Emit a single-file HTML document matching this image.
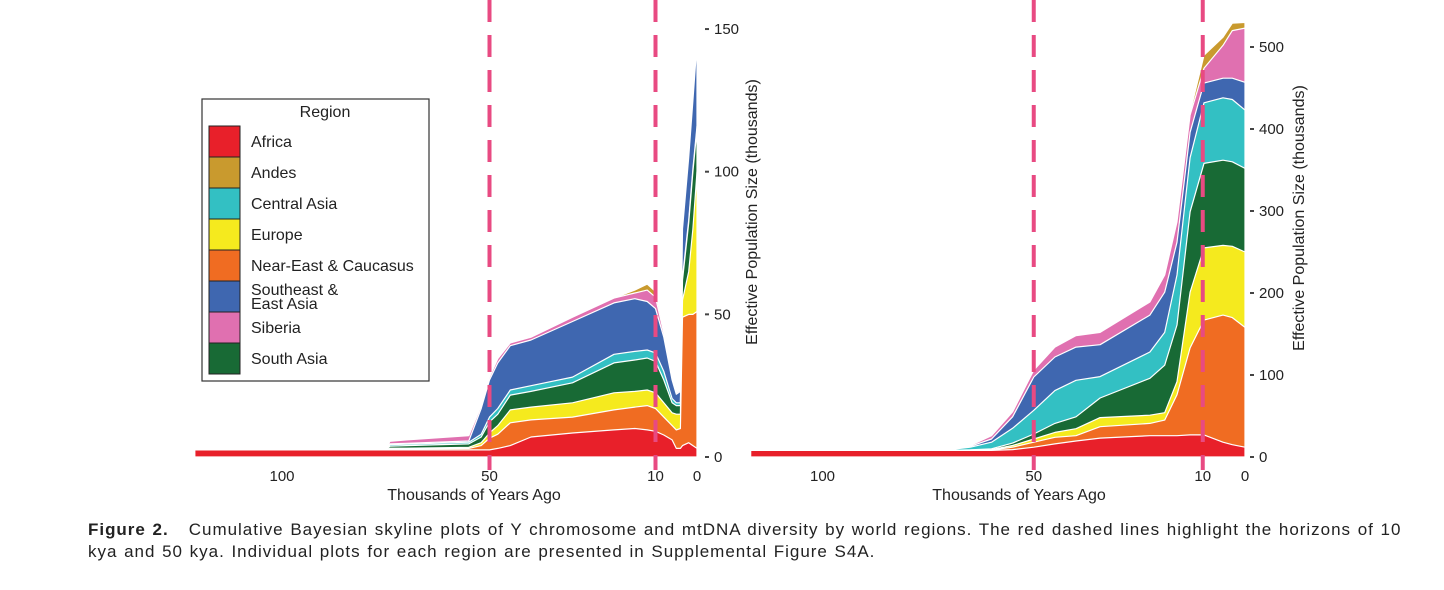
<!DOCTYPE html>
<html><head><meta charset="utf-8">
<style>
html,body{margin:0;padding:0;background:#fff;}
body{width:1444px;height:590px;overflow:hidden;font-family:"Liberation Sans",sans-serif;}
svg text{font-family:"Liberation Sans",sans-serif;fill:#222;}
#caption{position:absolute;left:88px;top:519px;font-size:17px;letter-spacing:0.98px;word-spacing:1px;color:#222;line-height:22px;white-space:nowrap;}
</style></head>
<body>
<svg id="chart" width="1444" height="515" style="position:absolute;left:0;top:0">
  <g id="left"></g>
  <g id="right"></g>
  <g id="legend"></g>
</svg>
<div id="caption"><b>Figure 2.</b>&nbsp;&nbsp; Cumulative Bayesian skyline plots of Y chromosome and mtDNA diversity by world regions. The red dashed lines highlight the horizons of 10<br>kya and 50 kya. Individual plots for each region are presented in Supplemental Figure S4A.</div>
<script>
const regions = ["Africa","Near-East & Caucasus","Europe","South Asia","Central Asia","Southeast & East Asia","Siberia","Andes"];
const colors = ["#e8202a","#f06c22","#f5ea1e","#186a35","#33c0c3","#3f67b0","#e070b0","#c99a2e"];
const legendOrder = ["Africa","Andes","Central Asia","Europe","Near-East & Caucasus","Southeast & East Asia","Siberia","South Asia"];

// Y chromosome (left): kya and cumulative stacked tops (thousands)
const yTimes = [121,75,74,70,55,52,50,48,45,40,30,20,15,12,10,8,6,5,4,3.5,2,1,0];
const yAfrica  = [2.5,2.5,2.5,2.5,2.5,2.5,2.5,3,4,7,8.4,9.5,10,9.5,9,7.7,6,3,3,4,5,4,3];
const yNearEast= [2.5,2.5,2.8,2.8,3,4,6.6,8,12,13,14,16.5,17.5,18,17,14,11,9.5,10,49,50,50,51];
const yEurope  = [2.5,2.5,3.1,3.1,3.4,5,8.4,11,16.5,17.5,19,22.5,23,23.5,22.5,19,15.5,15,15,55,65,80,100];
const ySouthAsia=[2.5,2.5,3.8,4,4.6,7,12.3,15,21.7,23,26,33,34,34.7,33.5,27,19,18,18,62,82,100,115];
const yCentral = [2.5,2.5,4.3,4.5,5.2,8,14,17,23.5,25,28,36,37,37.5,36.5,30,20.5,19,19,63,83,101,116];
const ySEAsia  = [2.5,2.5,4.6,4.8,5.6,17,27,33,39,41,47.5,54,55.5,54.5,52,42,27,22,23,80,105,125,145];
const ySiberia = [2.5,2.5,5.5,6,7.5,18,28,34.5,40,42,49,55.7,57.5,58.5,56,43.5,28,22.5,23.5,81,106,127,147];
const yAndes   = [2.5,2.5,5.5,6,7.5,18,28,34.5,40,42,49,55.7,58.5,60.6,58,44.5,28.5,22.7,23.5,81,106,127,147.5];

// mtDNA (right)
const mTimes = [117,70,65,60,55,50,45,40,34.3,22.5,19,16.1,13,9.7,5.2,3,0];
const mAfrica  = [8,8,8,8,9,12,16,19.5,23,26,26,26,27,27,18,15,12];
const mNearEast= [8,8,8.3,8.5,12,18,24,26,37,41,45,76,133,167,173,170,158];
const mEurope  = [8,8,8.5,9,14,22,30,34.5,48,51,54,92,201,255,258,257,250];
const mSouthAsia=[8,8,8.7,10,17,28,41,49,72,96,112,161,299,358,362,360,352];
const mCentral = [8,9,12,18,35,57,81,93.5,98,128,152,222,365,432,438,436,423];
const mSEAsia  = [8,9,13,22,49,97.6,122,134,137,173,201,262,396,456,462,462,457];
const mSiberia = [8,9.5,14,26,55,106,134,148,152,189,222,287,417,474,502,520,523];
const mAndes   = [8,9.5,14,26,55,107,135,149,153,190,223,289,420,490,512,529,530];

const yTicks = [0,50,100,150];
const mTicks = [0,100,200,300,400,500];
const xTicksL = [100,50,10,0];
const xTicksR = [100,50,10,0];

const NS="http://www.w3.org/2000/svg";
function mk(tag, attrs, parent){const e=document.createElementNS(NS,tag);for(const k in attrs)e.setAttribute(k,attrs[k]);parent.appendChild(e);return e;}

function drawPlot(g, times, series, xs, ys, yt, xt, yAxisX, titleX, titleY, xLabelX){
  for(let s=series.length-1;s>=0;s--){
    const top=series[s];
    let d="M"+xs(times[0])+","+ys(0);
    for(let i=0;i<times.length;i++) d+=" L"+xs(times[i]).toFixed(1)+","+ys(top[i]).toFixed(1);
    d+=" L"+xs(times[times.length-1])+","+ys(0)+" Z";
    const p=mk("path",{d:d,fill:colors[s],stroke:"#fff","stroke-width":1.2,"stroke-linejoin":"round"},g);
    
    
  }
  [50,10].forEach(v=>{
    const l=mk("line",{x1:xs(v),x2:xs(v),y1:0,y2:470,stroke:"#e84a82","stroke-width":4,"stroke-dasharray":"22 13"},g);
    
    
  });
  yt.forEach(v=>{
    const y=ys(v);
    mk("line",{x1:yAxisX,x2:yAxisX+4,y1:y,y2:y,stroke:"#444","stroke-width":2},g);
    const t=mk("text",{x:yAxisX+9,y:y+5,"font-size":15},g);
    t.textContent=v;
    
    
  });
  xt.forEach(v=>{
    const t=mk("text",{x:xs(v),y:481,"font-size":15,"text-anchor":"middle"},g);
    t.textContent=v;
    
    
  });
  const yl=mk("text",{x:titleX,y:titleY,"font-size":16,"text-anchor":"middle",transform:"rotate(-90 "+titleX+" "+titleY+")"},g);
  yl.textContent="Effective Population Size (thousands)";
  
  
  const xl=mk("text",{x:xLabelX,y:500,"font-size":16,"text-anchor":"middle"},g);
  xl.textContent="Thousands of Years Ago";
  
  
}

const xsL=t=>697-4.15*t, ysL=v=>457-2.853*v;
const xsR=t=>1245-4.225*t, ysR=v=>457-0.82*v;
drawPlot(document.getElementById("left"), yTimes,
  [yAfrica,yNearEast,yEurope,ySouthAsia,yCentral,ySEAsia,ySiberia,yAndes],
  xsL, ysL, yTicks, xTicksL, 705, 757, 212, 474);
drawPlot(document.getElementById("right"), mTimes,
  [mAfrica,mNearEast,mEurope,mSouthAsia,mCentral,mSEAsia,mSiberia,mAndes],
  xsR, ysR, mTicks, xTicksR, 1250, 1304, 218, 1019);

// legend
const lg=document.getElementById("legend");
mk("rect",{x:202,y:99,width:227,height:282,fill:"#fff",stroke:"#333","stroke-width":1.2},lg);
const lt=mk("text",{x:325,y:117,"font-size":16,"text-anchor":"middle"},lg);
lt.textContent="Region";


legendOrder.forEach((name,i)=>{
  const y=126+i*31;
  const idx=regions.indexOf(name);
  const r=mk("rect",{x:209,y:y,width:31,height:31,fill:colors[idx],stroke:"#222","stroke-width":1},lg);
  
  
  if(name==="Southeast & East Asia"){
    const t1=mk("text",{x:251,y:y+14,"font-size":16},lg);t1.textContent="Southeast &";
    const t2=mk("text",{x:251,y:y+28,"font-size":16},lg);t2.textContent="East Asia";
    
    
    
    
  } else {
    const t=mk("text",{x:251,y:y+21,"font-size":16},lg);
    t.textContent=name;
    
    
  }
});
</script>
</body></html>
